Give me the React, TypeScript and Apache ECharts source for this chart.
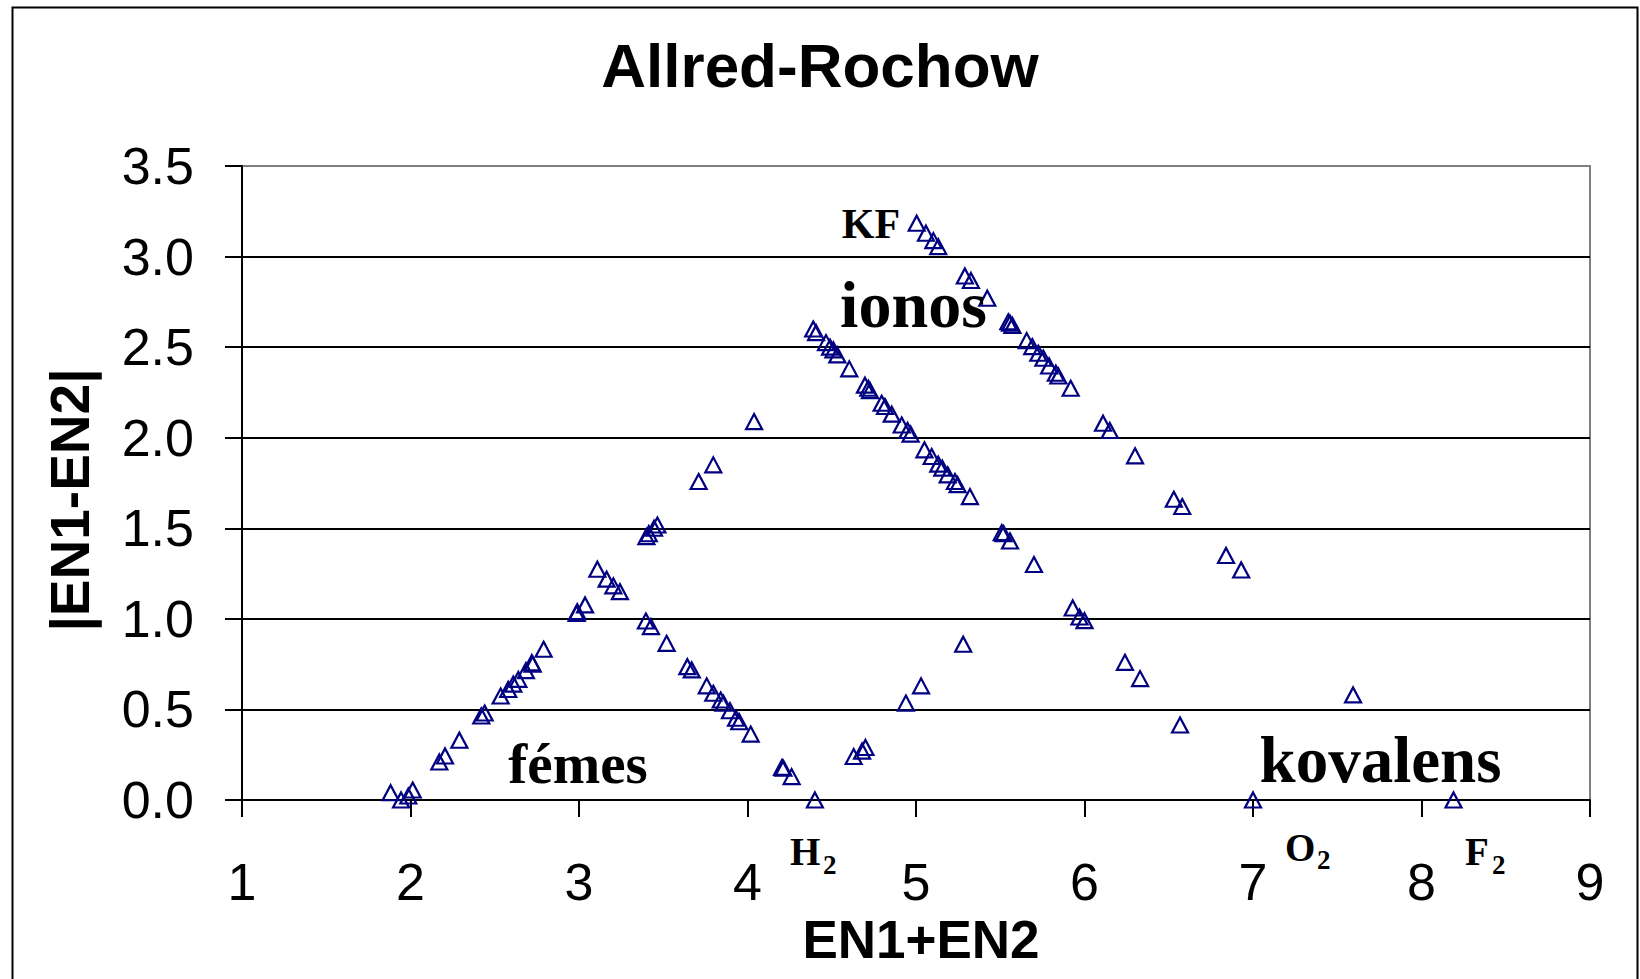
import React, { useEffect, useRef } from "react";
import * as echarts from "echarts";

// ---- data (EN1+EN2, |EN1-EN2|) ----
const metalRising: [number, number][] = [
  [1.882, 0.04], [1.944, 0.0], [1.987, 0.022], [2.013, 0.055], [2.171, 0.21], [2.205, 0.243],
  [2.29, 0.33], [2.42, 0.464], [2.44, 0.48], [2.535, 0.574], [2.58, 0.61], [2.61, 0.64],
  [2.64, 0.666], [2.685, 0.714], [2.72, 0.758], [2.725, 0.75], [2.79, 0.832], [2.986, 1.03],
  [2.99, 1.04], [3.036, 1.077], [3.109, 1.274], [3.164, 1.219], [3.204, 1.182], [3.243, 1.15],
  [3.40, 1.454], [3.414, 1.47], [3.445, 1.50], [3.465, 1.518], [3.71, 1.758], [3.797, 1.85],
  [4.039, 2.089],
];
const metalFalling: [number, number][] = [
  [3.397, 0.988], [3.427, 0.957], [3.52, 0.865], [3.643, 0.736], [3.669, 0.718], [3.758, 0.63],
  [3.797, 0.589], [3.841, 0.552], [3.857, 0.534], [3.896, 0.493], [3.932, 0.451], [3.951, 0.432],
  [4.019, 0.364], [4.205, 0.18], [4.213, 0.175], [4.262, 0.129], [4.40, 0.0],
];
const hydrogenRising: [number, number][] = [
  [4.63, 0.24], [4.68, 0.27], [4.70, 0.29], [4.94, 0.535], [5.03, 0.63], [5.28, 0.86],
];
const middleFalling: [number, number][] = [
  [4.39, 2.60], [4.407, 2.58], [4.466, 2.525], [4.49, 2.50], [4.51, 2.485], [4.533, 2.457],
  [4.604, 2.38], [4.697, 2.29], [4.717, 2.273], [4.727, 2.26], [4.796, 2.19], [4.816, 2.172],
  [4.856, 2.13], [4.915, 2.07], [4.95, 2.04], [4.968, 2.02], [5.05, 1.933], [5.093, 1.896],
  [5.132, 1.854], [5.156, 1.832], [5.188, 1.795], [5.231, 1.758], [5.247, 1.741], [5.32, 1.675],
  [5.509, 1.476], [5.52, 1.47], [5.558, 1.43], [5.70, 1.30], [5.93, 1.06], [5.97, 1.01],
  [6.00, 0.99], [6.24, 0.76], [6.33, 0.67], [6.567, 0.414], [7.0, 0.0],
];
const topFalling: [number, number][] = [
  [5.004, 3.184], [5.059, 3.129], [5.103, 3.088], [5.132, 3.055], [5.29, 2.893], [5.326, 2.868],
  [5.423, 2.77], [5.548, 2.64], [5.558, 2.632], [5.572, 2.62], [5.657, 2.536], [5.69, 2.503],
  [5.726, 2.466], [5.756, 2.439], [5.79, 2.396], [5.83, 2.356], [5.845, 2.341], [5.918, 2.273],
  [6.11, 2.08], [6.15, 2.04], [6.30, 1.90], [6.53, 1.66], [6.58, 1.62], [6.84, 1.35],
  [6.93, 1.27], [8.19, 0.0],
];
const isolated: [number, number][] = [[7.594, 0.58]];

const xTicks = [1, 2, 3, 4, 5, 6, 7, 8, 9];
const yTicks = [0, 0.5, 1.0, 1.5, 2.0, 2.5, 3.0, 3.5];

// annotations: [text, x, y, fontSize, align]
const annotations: [string, number, number, number, string][] = [
  ["KF", 4.733, 3.18, 42, "center"],
  ["ionos", 4.985, 2.733, 66, "center"],
  ["fémes", 2.994, 0.204, 57, "center"],
  ["kovalens", 7.757, 0.221, 65, "center"],
  ["H", 4.252, -0.282, 39, "left"],
  ["2", 4.448, -0.36, 27, "left"],
  ["O", 7.19, -0.26, 39, "left"],
  ["2", 7.38, -0.333, 27, "left"],
  ["F", 8.258, -0.287, 39, "left"],
  ["2", 8.418, -0.36, 27, "left"],
];

const SANS = "'Liberation Sans', Arial, sans-serif";
const SERIF = "'Liberation Serif', 'Times New Roman', serif";
const MARKER = "#000080";

export default function App() {
  const ref = useRef<HTMLDivElement>(null);
  useEffect(() => {
    if (!ref.current) return;
    const chart = echarts.init(ref.current, undefined, { renderer: "svg" });
    const mk = (data: [number, number][]) => ({
      type: "scatter",
      data,
      symbol: "triangle",
      symbolSize: [16, 15],
      itemStyle: { color: "rgba(0,0,0,0)", borderColor: MARKER, borderWidth: 2.2, opacity: 1 },
      emphasis: { disabled: true },
      z: 5,
    });
    chart.setOption({
      animation: false,
      backgroundColor: "#ffffff",
      title: {
        text: "Allred-Rochow",
        left: "center",
        top: 34,
        padding: 0,
        textStyle: { fontFamily: SANS, fontWeight: "bold", fontSize: 62, color: "#000" },
      },
      grid: {
        left: 242, right: 50, top: 166, bottom: 179,
        show: true, borderColor: "#808080", borderWidth: 2, backgroundColor: "transparent",
      },
      xAxis: {
        type: "value", min: xTicks[0], max: xTicks[xTicks.length - 1], interval: 1,
        name: "EN1+EN2", nameLocation: "middle", nameGap: 113,
        nameTextStyle: { fontFamily: SANS, fontWeight: "bold", fontSize: 53, color: "#000", padding: [0, 0, 0, 10] },
        axisLine: { show: true, onZero: false, lineStyle: { color: "#000", width: 2 } },
        axisTick: { show: true, inside: false, length: 17, lineStyle: { color: "#000", width: 2 } },
        axisLabel: { fontFamily: SANS, fontSize: 52, color: "#000", margin: 56 },
        splitLine: { show: false },
      },
      yAxis: {
        type: "value", min: yTicks[0], max: yTicks[yTicks.length - 1], interval: 0.5,
        name: "|EN1-EN2|", nameLocation: "middle", nameGap: 145,
        nameTextStyle: {
          fontFamily: SANS, fontWeight: "bold", fontSize: 55, color: "#000",
          padding: [0, 34, 0, 0],
        },
        axisLine: { show: true, lineStyle: { color: "#000", width: 2 } },
        axisTick: { show: true, inside: false, length: 17, lineStyle: { color: "#000", width: 2 } },
        axisLabel: {
          fontFamily: SANS, fontSize: 52, color: "#000", margin: 48,
          formatter: (v: number) => v.toFixed(1),
        },
        splitLine: {
          show: true,
          lineStyle: { color: ["#000", "#000", "#000", "#000", "#000", "#000", "#000", "#808080"], width: 2 },
        },
      },
      series: [
        mk(metalRising), mk(metalFalling), mk(hydrogenRising),
        mk(middleFalling), mk(topFalling), mk(isolated),
      ],
    });
    const texts = annotations.map(([t, x, y, fs, align]) => {
      const p = chart.convertToPixel({ xAxisIndex: 0, yAxisIndex: 0 }, [x, y]) as number[];
      return {
        type: "text",
        x: p[0],
        y: p[1],
        z: 10,
        style: {
          text: t, fontFamily: SERIF, fontWeight: "bold", fontSize: fs, fill: "#000",
          align, verticalAlign: "middle",
        },
      };
    });
    chart.setOption({
      graphic: [
        {
          type: "rect", left: 10, top: 5, z: -1, silent: true,
          shape: { width: 1625, height: 1010 },
          style: { fill: "none", stroke: "#000", lineWidth: 2 },
        },
        ...texts,
      ],
    });
    return () => chart.dispose();
  }, []);
  return (
    <div
      ref={ref}
      style={{ position: "fixed", left: 0, top: 0, width: 1640, height: 979, background: "#fff" }}
    />
  );
}
